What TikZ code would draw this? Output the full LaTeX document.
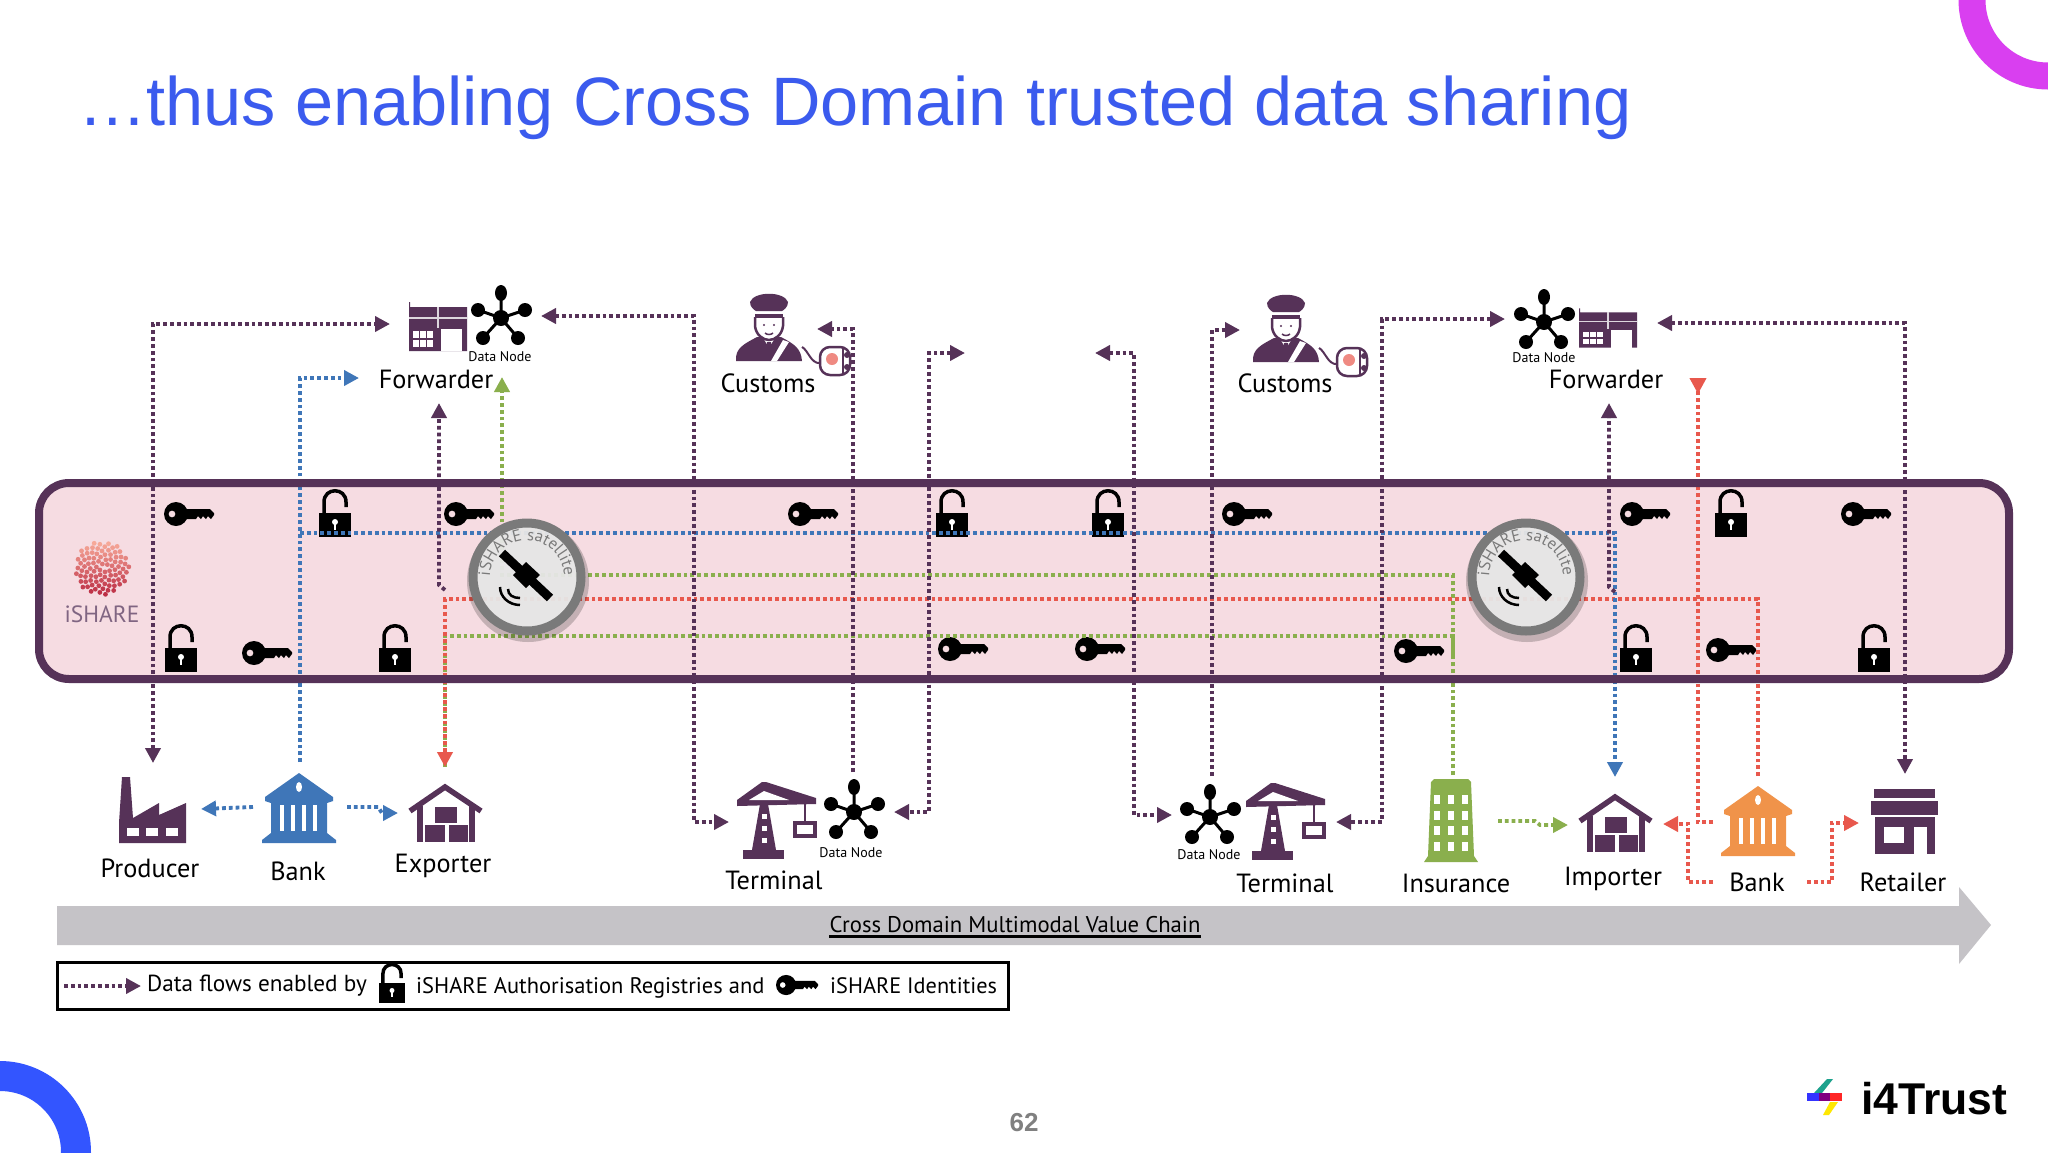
\documentclass[tikz,border=0pt]{standalone}
\usepackage{fontspec}
\setmainfont{PT Sans}
\newfontfamily\arialfont{Liberation Sans}
\usepackage{xcolor}
\usetikzlibrary{arrows.meta, decorations.text}

\definecolor{titleblue}{HTML}{3B5BEE}
\definecolor{ringblue}{HTML}{3355FF}
\definecolor{ringmagenta}{HTML}{D93FF0}
\definecolor{bandfill}{HTML}{F6DCE2}
\definecolor{flowpurple}{HTML}{563258}
\definecolor{flowblue}{HTML}{3F76B8}
\definecolor{flowgreen}{HTML}{8AAF4D}
\definecolor{flowred}{HTML}{E8584D}
\definecolor{bankorange}{HTML}{F0934A}
\definecolor{chaingray}{HTML}{C5C3C7}
\definecolor{satgray}{HTML}{7A7A7A}
\definecolor{satface}{HTML}{E9E9E9}
\definecolor{logopink}{HTML}{F6A898}
\definecolor{logodark}{HTML}{B8253F}

\tikzset{
    flowline/.style={line width=3.8pt, dash pattern=on 3.8pt off 3pt, -{Triangle[length=15pt,width=15pt]}},
    flowplain/.style={line width=3.8pt, dash pattern=on 3.8pt off 3pt},
    flowboth/.style={flowplain, {Triangle[length=15pt,width=15pt]}-{Triangle[length=15pt,width=15pt]}},
    rolelabel/.style={inner sep=0pt, font=\fontsize{26.3}{28}\selectfont},
    nodelabel/.style={inner sep=0pt, font=\fontsize{14}{16}\selectfont},
    legendlabel/.style={inner sep=0pt, anchor=west, font=\fontsize{22.5}{25}\selectfont},
    pics/keyicon/.style={code={
        \fill[black, even odd rule] (-13,0) circle[radius=12] (-17,0) circle[radius=3.5];
        \fill[black] (-4,-5) -- (21,-5) -- (25,-1) -- (25,1) -- (22,5) -- (19,2) -- (17,5) -- (14,2) -- (12,5) -- (9,2) -- (7,5) -- (-4,5) -- cycle;
    }},
    pics/lockicon/.style={code={
        \fill[black] (-16,0) rectangle (16,24);
        \fill[white] (0,9) circle[radius=3];
        \fill[white] (-1.3,10) rectangle (1.3,17);
        \draw[black, line width=3.5pt] (-11,0) -- (-11,-11) .. controls (-11,-26) and (11,-26) .. (11,-11) -- (11,-6);
    }},
    pics/datanode/.style={code={
        \draw[black, line width=3pt] (0,0) -- (0,-25) (0,0) -- (-23,-8) (0,0) -- (24,-8) (0,0) -- (-18,20) (0,0) -- (17,20);
        \fill[black] (0,0) circle[radius=8];
        \fill[black] (0,-25) ellipse (6 and 8);
        \fill[black] (-23,-8) ellipse (7 and 7);
        \fill[black] (24,-8) ellipse (7 and 7);
        \fill[black] (-18,20) ellipse (7 and 7);
        \fill[black] (17,20) ellipse (7 and 7);
    }},
    pics/wareicon/.style={code={
        \fill[flowpurple] (-29,-22) -- (-29,-27) -- (-28,-27) -- (-28,-22) -- (29,-22) -- (29,22) -- (-29,22) -- cycle;
        \draw[white!80!flowpurple, line width=1.2pt] (-29,-11) -- (29,-11) (0,-22) -- (0,-1);
        \fill[white] (3,0) rectangle (24,22);
        \foreach \wx in {-25,-18,-11} {
            \foreach \wy in {2,11} {
                \fill[white] (\wx,\wy) rectangle +(6,7);
            }
        }
    }},
    pics/customsman/.style={code={
        % Draw body
        \fill[flowpurple] (-33,31) .. controls (-34,18) and (-25,14) .. (-12,7) -- (12,7) .. controls (25,14) and (32,18) .. (33,31) -- cycle;
        \fill[white] (-6,8) -- (6,8) -- (1.5,15) -- (-1.5,15) -- cycle;
        \fill[flowpurple] (-2,12) -- (2,12) -- (3,27) -- (0,31) -- (-3,27) -- cycle;
        \fill[white] (14,10) -- (20,12) -- (8,31) -- (2,31) -- cycle;
        % Draw face
        \draw[flowpurple, fill=white, line width=2.5pt] (-14,-13) -- (-14,-4) .. controls (-13,5) and (-6,10) .. (0,10) .. controls (6,10) and (13,5) .. (14,-4) -- (14,-13);
        \draw[flowpurple, line width=1.5pt] (-4,3) .. controls (-2,5) and (2,5) .. (4,3);
        \fill[flowpurple] (-5,-5) circle[radius=1.2] (5,-5) circle[radius=1.2];
        % Draw hat
        \fill[flowpurple] (-19,-28) .. controls (-15,-39) and (15,-39) .. (19,-28) .. controls (19,-23) and (15,-20) .. (13,-19) -- (-13,-19) .. controls (-15,-20) and (-19,-23) .. (-19,-28) -- cycle;
        \fill[white] (-12,-18) rectangle (12,-16);
        \fill[flowpurple] (-14,-16) rectangle (14,-12);
        % Draw plug and wire
        \draw[flowpurple, line width=2pt] (33,17) .. controls (39,20) and (42,34) .. (51,33);
        \draw[flowpurple, fill=white, line width=2.5pt, rounded corners=10pt] (51,17) rectangle (81,45);
        \fill[flowred!70!white] (63,29) circle[radius=6];
        \draw[flowpurple, line width=2pt] (74,18) -- (74,44);
        \fill[flowpurple] (78,25) circle[radius=3] (78,37) circle[radius=3];
    }},
    pics/craneicon/.style={code={
        \fill[flowpurple] (-27,-14) -- (-27,-20) -- (-2,-38) -- (2,-38) -- (52,-22) -- (52,-16) -- cycle;
        \fill[white] (-15,-20) -- (0,-29) -- (25,-20) -- cycle;
        \fill[flowpurple] (-4,-16) -- (4,-16) -- (12,30) -- (-12,30) -- cycle;
        \foreach \ry in {-6,6,18} {
            \fill[white] (-2.5,\ry) rectangle (2.5,\ry+5);
        }
        \fill[flowpurple] (-21,30) rectangle (20,39);
        \draw[flowpurple, line width=2pt] (41,-16) -- (41,2);
        \draw[flowpurple, fill=white, line width=3.5pt] (31,3) rectangle (51,16);
    }},
    pics/factoryicon/.style={code={
        \fill[flowpurple] (0,0) -- (0,-20) -- (3,-66) -- (11,-66) -- (14,-25) -- (40,-40) -- (40,-28) -- (67,-40) -- (67,0) -- cycle;
        \foreach \wx in {8,27,47} {
            \fill[white] (\wx,-15) rectangle +(12,8);
        }
    }},
    pics/bankicon/.style={code={
        \fill[#1] (0,-70) -- (34,-46) -- (34,-42) -- (28,-40) -- (28,-10) -- (37,-3) -- (37,0) -- (-37,0) -- (-37,-3) -- (-28,-10) -- (-28,-40) -- (-34,-42) -- (-34,-46) -- cycle;
        \fill[white] (0,-56) ellipse (3 and 5);
        \foreach \cx in {-19,-8,3,14} {
            \fill[white] (\cx,-38) rectangle +(4,26);
        }
    }},
    pics/houseicon/.style={code={
        \draw[flowpurple, line width=5.5pt] (-35,-31) -- (0,-55) -- (36,-31);
        \fill[flowpurple] (-28,-36) rectangle (-22,0);
        \fill[flowpurple] (24,-36) rectangle (30,0);
        \fill[flowpurple] (-10,-35) rectangle (12,-19);
        \fill[flowpurple] (-20,-17) rectangle (0,0);
        \fill[flowpurple] (4,-17) rectangle (23,0);
    }},
    pics/insureicon/.style={code={
        \fill[flowgreen] (-20,-80) -- (-17,-83) -- (17,-83) -- (20,-80) -- (23,-6) -- (27,0) -- (-27,0) -- (-23,-6) -- cycle;
        \foreach \wx in {-14,0,14} {
            \foreach \wy in {-63,-47,-32,-16} {
                \fill[white] (\wx-3,\wy-4.5) rectangle +(6,9);
            }
        }
    }},
    pics/retailicon/.style={code={
        \fill[flowpurple] (-31,-65) rectangle (30,-56);
        \fill[flowpurple] (-34,-53) rectangle (33,-39);
        \fill[flowpurple] (-30,-37) rectangle (30,0);
        \fill[white] (-21,-27) rectangle (-1,-11);
        \fill[white] (9,-27) rectangle (22,0);
    }},
    pics/satellite/.style={code={
        % Draw disc and ring
        \fill[black, opacity=0.2] (1,4) circle[radius=61];
        \fill[satface, opacity=0.94] (0,0) circle[radius=54];
        \draw[satgray, line width=9pt] (0,0) circle[radius=54];
        % Draw text on the rim
        \path[decorate, decoration={text along path, text align=center, text={|\fontsize{16.5}{18}\selectfont\color{satgray}|iSHARE satellite}}] (-36.5,6) arc (171:369:37);
        % Draw spacecraft
        \draw[black, line width=9pt] (-25,-24) -- (23,21);
        \fill[black] (-1,-15) -- (13,-2) -- (-1,11) -- (-14,-2) -- cycle;
        \draw[black, line width=2.5pt] (-27,10) .. controls (-27,20) and (-18,28) .. (-7,28);
        \draw[black, line width=2.5pt] (-19,12) .. controls (-19,18) and (-14,21) .. (-7,21);
    }}
}

\begin{document}
\begin{tikzpicture}[x=1pt, y=-1pt]
    \useasboundingbox (0,0) rectangle (2048,1152);
    \clip (0,0) rectangle (2048,1152);
    \fill[white] (0,0) rectangle (2048,1152);

    % Corner rings
    \draw[ringmagenta, line width=27pt] (2048,0) circle[radius=76];
    \draw[ringblue, line width=30pt] (0,1152) circle[radius=76];

    % Title and footer
    \node[anchor=base west, inner sep=0pt, text=titleblue, font=\arialfont\fontsize{68.5}{72}\selectfont] (title) at (78,125) {…thus enabling Cross Domain trusted data sharing};
    \node[inner sep=0pt, text=black!50, font=\arialfont\bfseries\fontsize{26}{28}\selectfont] (pagenum) at (1024,1123) {62};
    \node[anchor=west, inner sep=0pt, font=\arialfont\bfseries\fontsize{44.5}{46}\selectfont] (brand) at (1861,1099) {i4Trust};

    % Brand mark
    \fill[flowgreen!30!cyan!70!black] (1827,1079) -- (1833,1079) -- (1822,1093) -- (1814,1093) -- cycle;
    \fill[blue!80!white] (1807,1093) rectangle (1819,1101);
    \fill[violet] (1819,1093) rectangle (1830,1101);
    \fill[red!85!white] (1830,1093) rectangle (1842,1101);
    \fill[yellow!90!orange] (1830,1102) -- (1838,1102) -- (1829,1115) -- (1823,1115) -- cycle;

    % Draw band
    \fill[bandfill, rounded corners=30pt] (39,483) rectangle (2009,679);

    % Draw keys
    \foreach \px/\py in {189/514, 469/514, 813/514, 1247/514, 1645/514, 1866/514, 267/653, 963/649, 1100/649, 1419/651, 1731/650} {
        \pic at (\px,\py) {keyicon};
    }

    % Draw locks
    \foreach \px/\py in {335/513, 952/513, 1108/513, 1731/513, 181/648, 395/648, 1636/648, 1874/648} {
        \pic at (\px,\py) {lockicon};
    }

    % Flow end points
    \coordinate (prodTip) at (153,763);
    \coordinate (fwdInA) at (390,324);
    \coordinate (fwdInB) at (541,316);
    \coordinate (termInA) at (729,822);
    \coordinate (custStart) at (853,772);
    \coordinate (custIn) at (817,329);
    \coordinate (midOutA) at (965,353);
    \coordinate (termInB) at (894,812);
    \coordinate (midOutB) at (1095,353);
    \coordinate (termInC) at (1172,815);
    \coordinate (custStartB) at (1212,776);
    \coordinate (custInB) at (1240,330);
    \coordinate (fwdInC) at (1505,319);
    \coordinate (termInD) at (1336,822);
    \coordinate (fwdInD) at (1657,323);
    \coordinate (retailTip) at (1905,774);
    \coordinate (exportUp) at (439,403);
    \coordinate (exportJog) at (445,590);
    \coordinate (importUp) at (1609,403);
    \coordinate (importJog) at (1615,592);
    \coordinate (blueTop) at (359,378);
    \coordinate (bankBlueStart) at (300,762);
    \coordinate (blueJoin) at (300,533);
    \coordinate (importTip) at (1615,777);
    \coordinate (producerIn) at (201,809);
    \coordinate (bankOutA) at (253,807);
    \coordinate (exporterIn) at (398,813);
    \coordinate (bankOutB) at (347,807);
    \coordinate (greenTop) at (502,377);
    \coordinate (insureUp) at (1453,775);
    \coordinate (exportTip) at (445,767);
    \coordinate (redEnd) at (1758,776);
    \coordinate (redTop) at (1698,378);
    \coordinate (redFoot) at (1713,822);
    \coordinate (insureOut) at (1498,821);
    \coordinate (importerIn) at (1568,825);
    \coordinate (bankLeftOut) at (1713,882);
    \coordinate (importerInR) at (1663,824);
    \coordinate (bankRightOut) at (1807,882);
    \coordinate (retailerIn) at (1859,823);

    % Draw green flows
    \draw[flowline, flowgreen] (insureUp) -- ++(0,-200) -- ++(-951,0) -- (greenTop);
    \draw[flowplain, flowgreen] (exportTip) -- ++(0,-131) -- ++(1008,0) -- ++(0,20);
    \draw[flowline, flowgreen] (insureOut) -- ++(37,0) -- ++(5,4) -- (importerIn);

    % Draw red flows
    \draw[flowline, flowred] (redEnd) -- ++(0,-177) -- ++(-1313,0) -- (exportTip);
    \draw[flowplain, flowred, -{Triangle[reversed,length=16pt,width=16pt]}] (redFoot) -- ++(-15,0) -- (redTop);
    \draw[flowline, flowred] (bankLeftOut) -- ++(-25,0) -- ++(0,-58) -- (importerInR);
    \draw[flowline, flowred] (bankRightOut) -- ++(25,0) -- ++(0,-59) -- (retailerIn);

    % Draw blue flows
    \draw[flowline, flowblue] (bankBlueStart) -- ++(0,-384) -- (blueTop);
    \draw[flowline, flowblue] (blueJoin) -- ++(1315,0) -- (importTip);
    \draw[flowline, flowblue] (bankOutA) -- (producerIn);
    \draw[flowline, flowblue] (bankOutB) -- ++(31,0) -- ++(4,6) -- (exporterIn);

    % Draw purple flows
    \draw[flowboth, flowpurple] (prodTip) |- (fwdInA);
    \draw[flowboth, flowpurple] (fwdInB) -- ++(153,0) |- (termInA);
    \draw[flowline, flowpurple] (custStart) |- (custIn);
    \draw[flowboth, flowpurple] (midOutA) -- ++(-36,0) |- (termInB);
    \draw[flowboth, flowpurple] (midOutB) -- ++(39,0) |- (termInC);
    \draw[flowline, flowpurple] (custStartB) |- (custInB);
    \draw[flowboth, flowpurple] (fwdInC) -- ++(-123,0) |- (termInD);
    \draw[flowboth, flowpurple] (fwdInD) -| (retailTip);
    \draw[flowline, flowpurple] (exportJog) -- ++(-6,-5) -- (exportUp);
    \draw[flowline, flowpurple] (importJog) -- ++(-6,-5) -- (importUp);

    % Draw band border
    \draw[flowpurple, line width=8pt, rounded corners=30pt] (39,483) rectangle (2009,679);

    % Draw satellites
    \pic at (527,577) {satellite};
    \pic at (1526,577) {satellite};

    % iSHARE logo
    \foreach \i in {1,...,90} {
        \pgfmathsetmacro{\ra}{27*sqrt(\i/90)}
        \pgfmathsetmacro{\an}{\i*137.5}
        \pgfmathsetmacro{\mx}{45+50*sin(\an)*\ra/27}
        \fill[logodark!\mx!logopink] ({102+\ra*cos(\an)},{568+\ra*sin(\an)}) circle[radius=2.4];
    }
    \node[inner sep=0pt, text=flowpurple!75!white, font=\fontsize{23.5}{25}\selectfont] (ishare) at (102,614) {iSHARE};

    % Draw actor icons
    \pic at (438,329) {wareicon};
    \pic at (501,318) {datanode};
    \pic at (769,330) {customsman};
    \pic at (1286,331) {customsman};
    \pic at (1544,322) {datanode};
    \pic[yscale=0.8] at (1608,330) {wareicon};
    \pic at (119,843) {factoryicon};
    \pic at (299,843) {bankicon=flowblue};
    \pic at (445,842) {houseicon};
    \pic at (764,820) {craneicon};
    \pic at (854,812) {datanode};
    \pic at (1210,817) {datanode};
    \pic at (1273,821) {craneicon};
    \pic at (1451,862) {insureicon};
    \pic at (1615,852) {houseicon};
    \pic at (1758,856) {bankicon=bankorange};
    \pic at (1905,854) {retailicon};

    % Label actors
    \node[rolelabel] (fwdA) at (436,379) {Forwarder};
    \node[nodelabel] (dnA) at (500,357) {Data Node};
    \node[rolelabel] (custA) at (768,383) {Customs};
    \node[rolelabel] (custB) at (1285,383) {Customs};
    \node[rolelabel] (fwdB) at (1606,379) {Forwarder};
    \node[nodelabel] (dnB) at (1544,358) {Data Node};
    \node[rolelabel] (producer) at (150,868) {Producer};
    \node[rolelabel] (bankA) at (298,871) {Bank};
    \node[rolelabel] (exporter) at (443,866) {Exporter};
    \node[rolelabel] (termA) at (774,880) {Terminal};
    \node[nodelabel] (dnC) at (851,853) {Data Node};
    \node[nodelabel] (dnD) at (1209,855) {Data Node};
    \node[rolelabel] (termB) at (1285,883) {Terminal};
    \node[rolelabel] (insurance) at (1456,883) {Insurance};
    \node[rolelabel] (importer) at (1613,879) {Importer};
    \node[rolelabel] (bankB) at (1757,882) {Bank};
    \node[rolelabel] (retailer) at (1903,882) {Retailer};

    % Draw value chain arrow
    \fill[chaingray] (57,906) -- (1959,906) -- (1959,887) -- (1991,925) -- (1959,964) -- (1959,945) -- (57,945) -- cycle;
    \node[inner sep=0pt, font=\fontsize{22.7}{24}\selectfont] (chain) at (1015,925) {Cross Domain Multimodal Value Chain};
    \draw[black, line width=2.5pt] ([yshift=-3pt]chain.south west) -- ([yshift=-3pt]chain.south east);

    % Draw legend
    \node[draw=black, line width=3pt, minimum width=951pt, minimum height=47pt, inner sep=0pt] (legend) at (532.5,985.5) {};
    \coordinate (legendStart) at (64,986);
    \coordinate (legendTip) at (141,986);
    \draw[flowline, flowpurple] (legendStart) -- (legendTip);
    \node[legendlabel, font=\fontsize{23.2}{25}\selectfont] (legendA) at (147,986) {Data flows enabled by};
    \pic[scale=0.83] at (392,983) {lockicon};
    \node[legendlabel] (legendB) at (416,988) {iSHARE Authorisation Registries and};
    \pic[scale=0.84] at (797,985) {keyicon};
    \node[legendlabel, font=\fontsize{22.3}{25}\selectfont] (legendC) at (830,986) {iSHARE Identities};
\end{tikzpicture}
\end{document}
